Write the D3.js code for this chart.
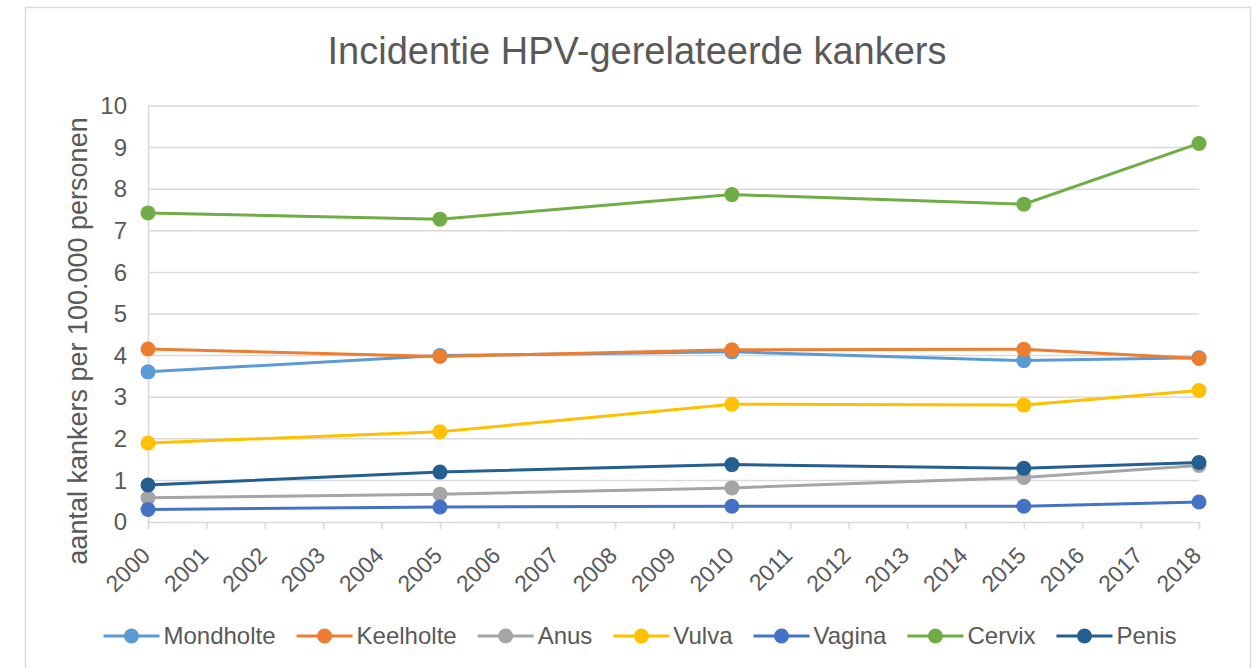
<!DOCTYPE html>
<html>
<head>
<meta charset="utf-8">
<script src="https://cdn.jsdelivr.net/npm/d3@7"></script>
<style>
  body { margin: 0; background: #fff; }
  text { font-family: "Liberation Sans", Arial, sans-serif; fill: #595959; }
</style>
</head>
<body>
<script>
// Size of the drawing area
const w = 1256;
const h = 668;

// Plot area edges
const plotLeft = 148;
const plotRight = 1199;
const plotTop = 106;
const plotBottom = 522;

// Data
const years = [2000, 2005, 2010, 2015, 2018];
const allYears = d3.range(2000, 2019);
const yTicks = [0, 1, 2, 3, 4, 5, 6, 7, 8, 9, 10];

const seriesNames = ["Mondholte", "Keelholte", "Anus", "Vulva", "Vagina", "Cervix", "Penis"];
const seriesColors = ["#5B9BD5", "#ED7D31", "#A5A5A5", "#FFC000", "#4472C4", "#70AD47", "#255E91"];

const mondholte = [3.61, 4.0, 4.09, 3.88, 3.95];
const keelholte = [4.16, 3.98, 4.14, 4.15, 3.93];
const anus = [0.58, 0.67, 0.82, 1.07, 1.36];
const vulva = [1.90, 2.17, 2.83, 2.81, 3.16];
const vagina = [0.30, 0.36, 0.38, 0.38, 0.48];
const cervix = [7.43, 7.28, 7.87, 7.64, 9.10];
const penis = [0.89, 1.20, 1.38, 1.29, 1.43];

const seriesValues = [mondholte, keelholte, anus, vulva, vagina, cervix, penis];

const svg = d3.select("body").append("svg").attr("width", w).attr("height", h);

// Outer chart frame
svg.append("rect")
  .attr("x", 25.5).attr("y", 7.5)
  .attr("width", 1225).attr("height", 700)
  .attr("fill", "#fff")
  .attr("stroke", "#d9d9d9")
  .attr("stroke-width", 1.5);

// Scales
const xScale = d3.scaleLinear().domain([2000, 2018]).range([plotLeft, plotRight]);
const yScale = d3.scaleLinear().domain([0, 10]).range([plotBottom, plotTop]);

// Gridlines
svg.append("g")
  .selectAll("line")
  .data(yTicks.filter(d => d > 0))
  .enter()
  .append("line")
  .attr("x1", plotLeft).attr("x2", plotRight)
  .attr("y1", d => yScale(d)).attr("y2", d => yScale(d))
  .attr("stroke", "#d9d9d9")
  .attr("stroke-width", 1.5);

// Y axis (vertical line, labels only)
const yAxis = d3.axisLeft(yScale).tickValues(yTicks).tickSize(0).tickPadding(21);
svg.append("g")
  .attr("transform", "translate(" + plotLeft + ",0)")
  .call(yAxis)
  .call(g => g.select(".domain").attr("stroke", "#d9d9d9").attr("stroke-width", 1.5))
  .selectAll("text")
  .style("font-size", "24px")
  .attr("fill", "#595959");

// X axis
const xAxis = d3.axisBottom(xScale).tickValues(allYears).tickSize(7).tickFormat(d3.format("d"));
svg.append("g")
  .attr("transform", "translate(0," + plotBottom + ")")
  .call(xAxis)
  .call(g => g.select(".domain").attr("stroke", "#d9d9d9").attr("stroke-width", 1.5))
  .call(g => g.selectAll(".tick line").attr("stroke", "#d9d9d9").attr("stroke-width", 1.5))
  .selectAll("text")
  .style("font-size", "23px")
  .attr("fill", "#595959")
  .attr("dy", null)
  .attr("y", 0)
  .attr("transform", "translate(3,35)rotate(-45)")
  .style("text-anchor", "end");

// Lines and markers
const line = d3.line()
  .x((d, i) => xScale(years[i]))
  .y(d => yScale(d));

seriesValues.forEach(function (vals, s) {
  const g = svg.append("g");
  g.append("path")
    .attr("d", line(vals))
    .attr("fill", "none")
    .attr("stroke", seriesColors[s])
    .attr("stroke-width", 3);
  g.selectAll("circle")
    .data(vals)
    .enter()
    .append("circle")
    .attr("cx", (d, i) => xScale(years[i]))
    .attr("cy", d => yScale(d))
    .attr("r", 7.5)
    .attr("fill", seriesColors[s]);
});

// Title
svg.append("text")
  .attr("x", 637).attr("y", 64)
  .attr("text-anchor", "middle")
  .style("font-size", "38px")
  .text("Incidentie HPV-gerelateerde kankers");

// Y axis title
svg.append("text")
  .attr("transform", "translate(87,341)rotate(-90)")
  .attr("text-anchor", "middle")
  .style("font-size", "27px")
  .text("aantal kankers per 100.000 personen");

// Legend: line + marker + label, laid out left to right and centred
const legend = svg.append("g");
const symbolLen = 56;
const textGap = 4;
const itemGap = 21;
const legendY = 636;
let x0 = 0;
seriesNames.forEach(function (name, s) {
  const item = legend.append("g").attr("transform", "translate(" + x0 + ",0)");
  item.append("line")
    .attr("x1", 0).attr("x2", symbolLen)
    .attr("y1", legendY).attr("y2", legendY)
    .attr("stroke", seriesColors[s])
    .attr("stroke-width", 3);
  item.append("circle")
    .attr("cx", symbolLen / 2).attr("cy", legendY)
    .attr("r", 7.5)
    .attr("fill", seriesColors[s]);
  const t = item.append("text")
    .attr("x", symbolLen + textGap).attr("y", legendY + 8)
    .style("font-size", "24px")
    .text(name);
  x0 += symbolLen + textGap + t.node().getComputedTextLength() + itemGap;
});
const legendWidth = x0 - itemGap;
legend.attr("transform", "translate(" + (640 - legendWidth / 2) + ",0)");
</script>
</body>
</html>
